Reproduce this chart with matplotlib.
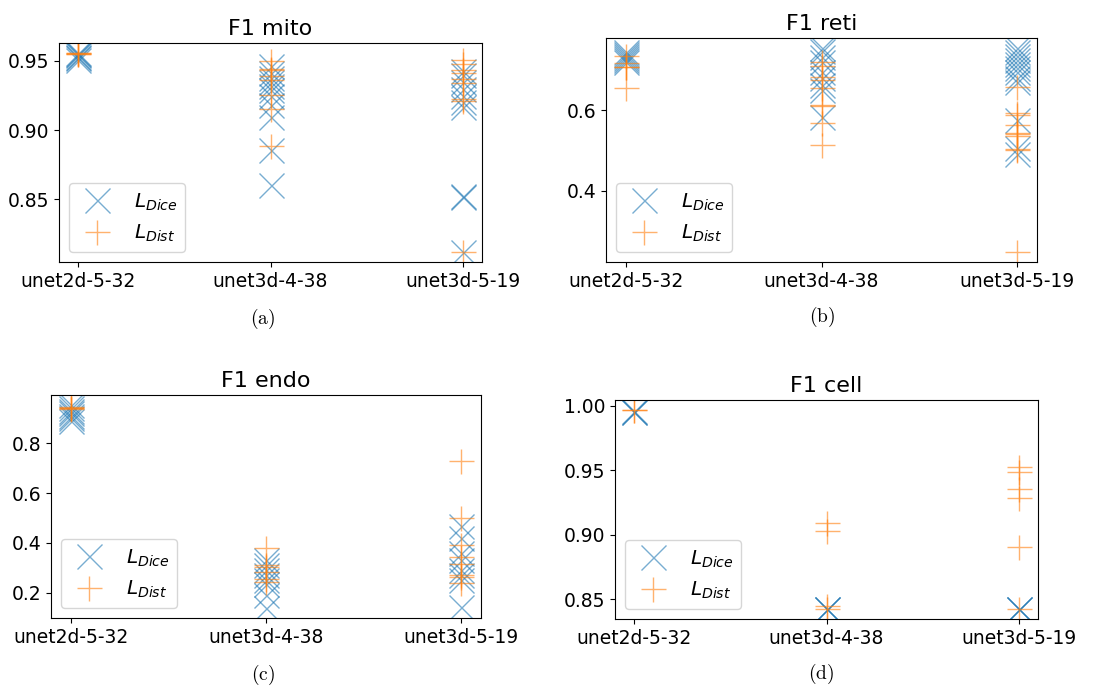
import matplotlib
matplotlib.use("Agg")
import matplotlib.pyplot as plt
from matplotlib.ticker import MultipleLocator

# model names on the x axis
MODELS = ["unet2d-5-32", "unet3d-4-38", "unet3d-5-19"]

# F1 scores per model (one list per model)
mito_dice = [
    [0.9555, 0.955, 0.954, 0.953, 0.952, 0.951],
    [0.946, 0.941, 0.938, 0.935, 0.932, 0.929, 0.925, 0.918, 0.9095, 0.8855, 0.860],
    [0.943, 0.940, 0.935, 0.930, 0.925, 0.920, 0.917, 0.852, 0.8515, 0.8117],
]
mito_dist = [
    [0.9558, 0.9555, 0.955, 0.9553],
    [0.950, 0.944, 0.9438, 0.939, 0.936, 0.9257, 0.915, 0.8883],
    [0.9505, 0.9481, 0.9433, 0.9413, 0.9368, 0.9337, 0.9228, 0.9211, 0.812],
]

reti_dice = [
    [0.745, 0.74, 0.735, 0.73, 0.725, 0.72],
    [0.754, 0.746, 0.733, 0.72, 0.696, 0.679, 0.6625, 0.65, 0.583],
    [0.754, 0.745, 0.735, 0.725, 0.715, 0.705, 0.695, 0.68, 0.67, 0.575, 0.505, 0.49],
]
reti_dist = [
    [0.735, 0.717, 0.708, 0.706, 0.654],
    [0.719, 0.709, 0.683, 0.674, 0.654, 0.613, 0.611, 0.567, 0.5125],
    [0.657, 0.594, 0.588, 0.564, 0.543, 0.541, 0.535, 0.502, 0.500, 0.2475],
]

endo_dice = [
    [0.952, 0.94, 0.93, 0.92, 0.91, 0.90, 0.89],
    [0.33, 0.31, 0.29, 0.27, 0.25, 0.235, 0.19, 0.14],
    [0.468, 0.421, 0.36, 0.33, 0.29, 0.27, 0.25, 0.143],
]
endo_dist = [
    [0.946, 0.942, 0.935, 0.94],
    [0.378, 0.311, 0.302, 0.282, 0.255, 0.245],
    [0.727, 0.501, 0.391, 0.342, 0.316, 0.27, 0.265, 0.24],
]

cell_dice = [
    [0.996, 0.9955, 0.995],
    [0.8426, 0.8424, 0.8428],
    [0.8424, 0.8426, 0.8428],
]
cell_dist = [
    [0.9967, 0.9963],
    [0.9093, 0.9031, 0.8447, 0.8426],
    [0.9522, 0.9484, 0.9352, 0.9287, 0.8907, 0.8426],
]

TITLES = ["F1 mito", "F1 reti", "F1 endo", "F1 cell"]
CAPTIONS = ["(a)", "(b)", "(c)", "(d)"]
Y_STEPS = [0.05, 0.2, 0.2, 0.05]

W, H = 1109, 686
fig = plt.figure(figsize=(W / 100, H / 100), dpi=100)

# axes boxes in pixels: left, top, right, bottom
boxes = [(59, 43, 482, 262), (606, 38, 1037, 262),
         (51, 395, 481, 618), (615, 400, 1038, 619)]
caption_xy = [(263, 319), (822, 317), (263, 675), (821, 674)]

panels = [(mito_dice, mito_dist), (reti_dice, reti_dist),
          (endo_dice, endo_dist), (cell_dice, cell_dist)]

for i, (dice, dist) in enumerate(panels):
    l, t, r, b = boxes[i]
    ax = fig.add_axes([l / W, 1 - b / H, (r - l) / W, (b - t) / H])
    first = True
    for name, dv, sv in zip(MODELS, dice, dist):
        ax.plot([name] * len(dv), dv, "x", color="C0", markersize=18, alpha=0.6,
                label=r"$L_{Dice}$" if first else None)
        ax.plot([name] * len(sv), sv, "+", color="C1", markersize=18, alpha=0.6,
                label=r"$L_{Dist}$" if first else None)
        first = False
    ax.yaxis.set_major_locator(MultipleLocator(Y_STEPS[i]))
    ax.set_title(TITLES[i], fontsize=16)
    ax.tick_params(labelsize=13.5)
    ax.legend(loc="lower left", fontsize=14.5)

    cx, cy = caption_xy[i]
    fig.text(cx / W, 1 - cy / H, r"$\mathrm{" + CAPTIONS[i] + "}$",
             ha="center", va="center", fontsize=14, math_fontfamily="cm")

fig.savefig("out.png", dpi=100)
